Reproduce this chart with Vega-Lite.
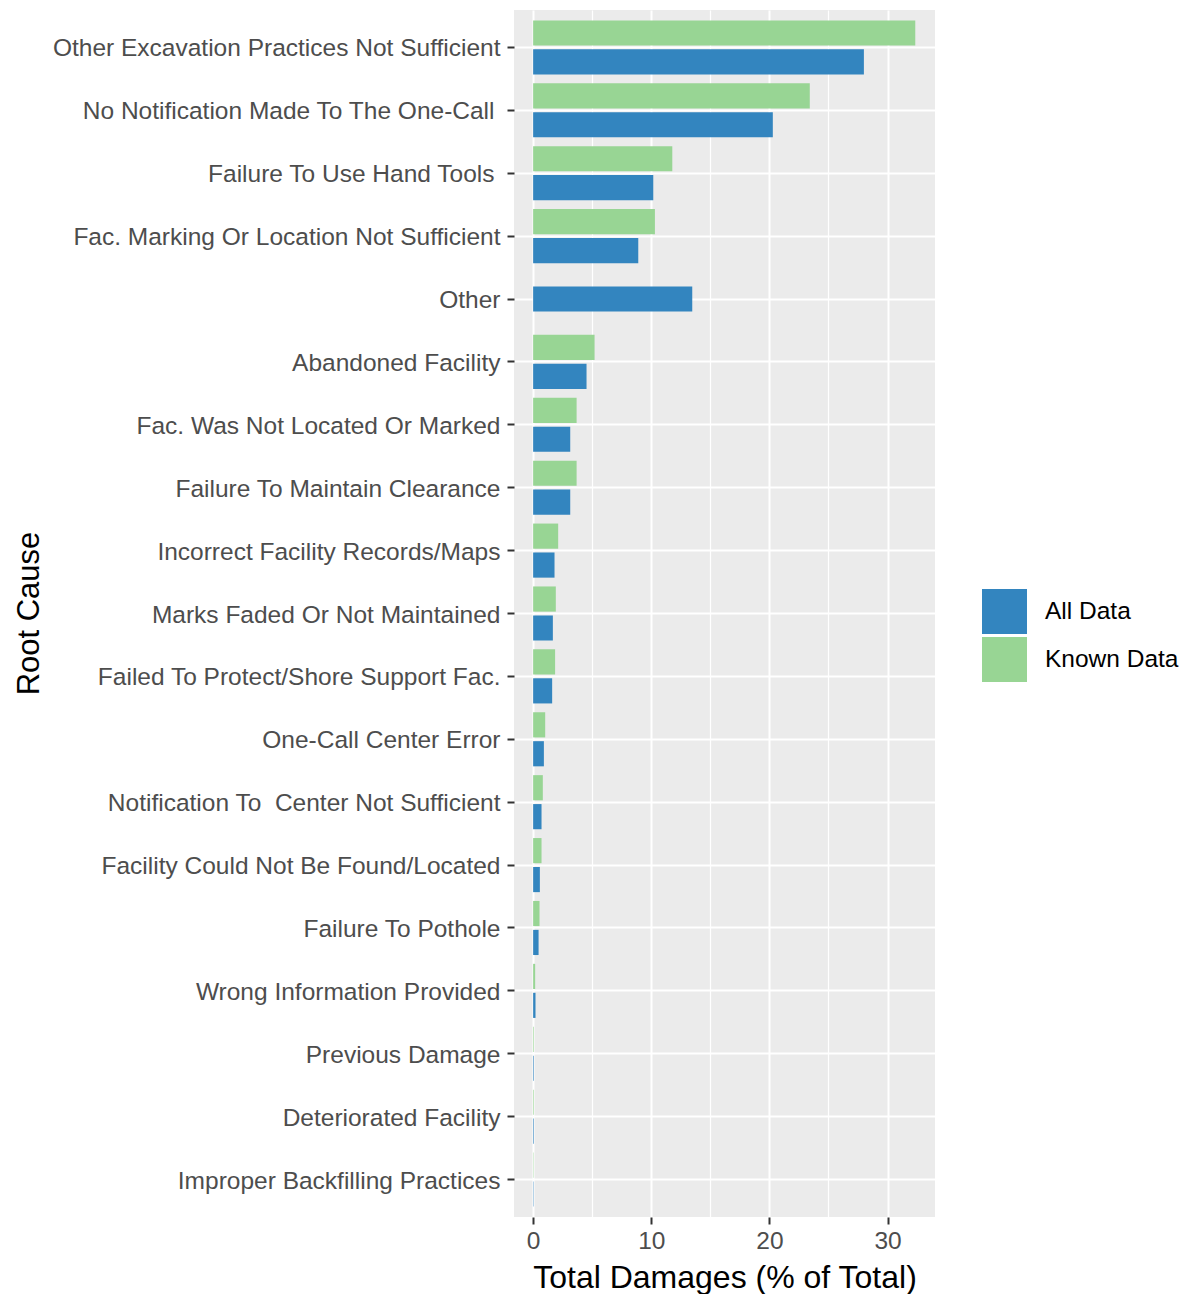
{
  "$schema": "https://vega.github.io/schema/vega-lite/v6.json",
  "width": 421,
  "height": 1207,
  "autosize": "none",
  "padding": {"left": 514, "top": 10, "right": 253, "bottom": 77},
  "background": "white",
  "config": {
    "font": "Liberation Sans",
    "view": {"fill": "#ebebeb", "stroke": null},
    "axis": {"domain": false}
  },
  "datasets": {
    "bars": [
      {"cause": "Other Excavation Practices Not Sufficient", "type": "Known Data", "pct": 32.35},
      {"cause": "Other Excavation Practices Not Sufficient", "type": "All Data", "pct": 28.0},
      {"cause": "No Notification Made To The One-Call", "type": "Known Data", "pct": 23.42},
      {"cause": "No Notification Made To The One-Call", "type": "All Data", "pct": 20.29},
      {"cause": "Failure To Use Hand Tools", "type": "Known Data", "pct": 11.78},
      {"cause": "Failure To Use Hand Tools", "type": "All Data", "pct": 10.17},
      {"cause": "Fac. Marking Or Location Not Sufficient", "type": "Known Data", "pct": 10.31},
      {"cause": "Fac. Marking Or Location Not Sufficient", "type": "All Data", "pct": 8.9},
      {"cause": "Other", "type": "All Data", "pct": 13.47},
      {"cause": "Abandoned Facility", "type": "Known Data", "pct": 5.2},
      {"cause": "Abandoned Facility", "type": "All Data", "pct": 4.52},
      {"cause": "Fac. Was Not Located Or Marked", "type": "Known Data", "pct": 3.68},
      {"cause": "Fac. Was Not Located Or Marked", "type": "All Data", "pct": 3.14},
      {"cause": "Failure To Maintain Clearance", "type": "Known Data", "pct": 3.68},
      {"cause": "Failure To Maintain Clearance", "type": "All Data", "pct": 3.14},
      {"cause": "Incorrect Facility Records/Maps", "type": "Known Data", "pct": 2.12},
      {"cause": "Incorrect Facility Records/Maps", "type": "All Data", "pct": 1.81},
      {"cause": "Marks Faded Or Not Maintained", "type": "Known Data", "pct": 1.92},
      {"cause": "Marks Faded Or Not Maintained", "type": "All Data", "pct": 1.67},
      {"cause": "Failed To Protect/Shore Support Fac.", "type": "Known Data", "pct": 1.86},
      {"cause": "Failed To Protect/Shore Support Fac.", "type": "All Data", "pct": 1.61},
      {"cause": "One-Call Center Error", "type": "Known Data", "pct": 1.02},
      {"cause": "One-Call Center Error", "type": "All Data", "pct": 0.91},
      {"cause": "Notification To\u00a0 Center Not Sufficient", "type": "Known Data", "pct": 0.82},
      {"cause": "Notification To\u00a0 Center Not Sufficient", "type": "All Data", "pct": 0.71},
      {"cause": "Facility Could Not Be Found/Located", "type": "Known Data", "pct": 0.71},
      {"cause": "Facility Could Not Be Found/Located", "type": "All Data", "pct": 0.57},
      {"cause": "Failure To Pothole", "type": "Known Data", "pct": 0.54},
      {"cause": "Failure To Pothole", "type": "All Data", "pct": 0.46},
      {"cause": "Wrong Information Provided", "type": "Known Data", "pct": 0.17},
      {"cause": "Wrong Information Provided", "type": "All Data", "pct": 0.2},
      {"cause": "Previous Damage", "type": "Known Data", "pct": 0.05},
      {"cause": "Previous Damage", "type": "All Data", "pct": 0.05},
      {"cause": "Deteriorated Facility", "type": "Known Data", "pct": 0.05},
      {"cause": "Deteriorated Facility", "type": "All Data", "pct": 0.05},
      {"cause": "Improper Backfilling Practices", "type": "Known Data", "pct": 0.03},
      {"cause": "Improper Backfilling Practices", "type": "All Data", "pct": 0.03}
    ]
  },
  "data": {"name": "bars"},
  "encoding": {
    "y": {
      "field": "cause",
      "type": "nominal",
      "sort": [
        "Other Excavation Practices Not Sufficient",
        "No Notification Made To The One-Call",
        "Failure To Use Hand Tools",
        "Fac. Marking Or Location Not Sufficient",
        "Other",
        "Abandoned Facility",
        "Fac. Was Not Located Or Marked",
        "Failure To Maintain Clearance",
        "Incorrect Facility Records/Maps",
        "Marks Faded Or Not Maintained",
        "Failed To Protect/Shore Support Fac.",
        "One-Call Center Error",
        "Notification To\u00a0 Center Not Sufficient",
        "Facility Could Not Be Found/Located",
        "Failure To Pothole",
        "Wrong Information Provided",
        "Previous Damage",
        "Deteriorated Facility",
        "Improper Backfilling Practices"
      ],
      "scale": {"paddingInner": 0.14, "paddingOuter": 0.165},
      "axis": {
        "title": "Root Cause",
        "titleFontSize": 31,
        "titleFontWeight": "normal",
        "titleColor": "black",
        "titleAngle": -90,
        "titleAlign": "center",
        "titleBaseline": "alphabetic",
        "titleX": -476,
        "titleY": 603,
        "labelFontSize": 24.5,
        "labelColor": "#4d4d4d",
        "labelPadding": {"condition": {"test": "datum.value === 'No Notification Made To The One-Call' || datum.value === 'Failure To Use Hand Tools'", "value": 13}, "value": 7},
        "labelOffset": 2,
        "labelLimit": 600,
        "tickColor": "#333333",
        "tickSize": 7,
        "tickWidth": 2,
        "bandPosition": 0.5,
        "grid": true,
        "gridColor": "white",
        "gridWidth": 2
      }
    },
    "x": {
      "field": "pct",
      "type": "quantitative",
      "scale": {"domain": [-1.62, 34.02], "nice": false, "zero": false},
      "axis": {
        "title": "Total Damages (% of Total)",
        "titleFontSize": 32,
        "titleFontWeight": "normal",
        "titleColor": "black",
        "titlePadding": 10,
        "values": [0, 5, 10, 15, 20, 25, 30],
        "labelExpr": "datum.value % 10 === 0 ? datum.label : ''",
        "labelFontSize": 24.5,
        "labelColor": "#4d4d4d",
        "labelPadding": 5,
        "tickColor": "#333333",
        "tickSize": 7,
        "tickWidth": 2,
        "tickOpacity": {"condition": {"test": "datum.value % 10 !== 0", "value": 0}, "value": 1},
        "grid": true,
        "gridColor": "white",
        "gridWidth": {"condition": {"test": "datum.value % 10 !== 0", "value": 1.2}, "value": 2}
      }
    },
    "color": {
      "field": "type",
      "type": "nominal",
      "scale": {"domain": ["All Data", "Known Data"], "range": ["#3385bf", "#98d594"]},
      "legend": {
        "title": null,
        "orient": "none",
        "legendX": 468,
        "legendY": 579,
        "padding": 0,
        "symbolType": "square",
        "symbolSize": 2025,
        "symbolStrokeWidth": 0,
        "symbolOpacity": 1,
        "labelFontSize": 24.5,
        "labelColor": "black",
        "labelOffset": 18,
        "rowPadding": 3
      }
    }
  },
  "layer": [
    {
      "transform": [{"filter": "datum.cause !== 'Other'"}],
      "mark": {"type": "bar", "strokeWidth": 0},
      "encoding": {
        "yOffset": {
          "field": "type",
          "type": "nominal",
          "sort": ["Known Data", "All Data"],
          "scale": {"paddingInner": 0.13, "paddingOuter": 0}
        }
      }
    },
    {
      "transform": [{"filter": "datum.cause === 'Other'"}],
      "mark": {"type": "bar", "strokeWidth": 0, "height": {"band": 0.465}}
    }
  ]
}
